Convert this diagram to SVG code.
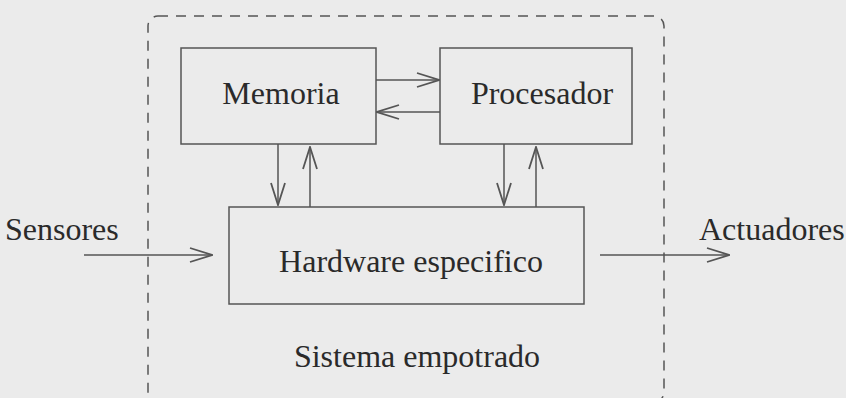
<svg xmlns="http://www.w3.org/2000/svg" width="846" height="398" viewBox="0 0 846 398">
<defs>
<style>
.box{fill:none;stroke:#555;stroke-width:1.5}
.c{fill:none;stroke:#555;stroke-width:1.5}
.t{font-family:'Liberation Serif','Times New Roman','DejaVu Serif',serif;font-size:32px;fill:#2a2a2a}
</style>
<marker id="ah" viewBox="0 0 24 16" refX="23" refY="8" markerWidth="24" markerHeight="16" markerUnits="userSpaceOnUse" orient="auto">
<path d="M1,1 L23,8 L1,15" fill="none" stroke="#555" stroke-width="1.8"/>
</marker>
</defs>
<rect width="846" height="398" fill="#ebebeb"/>
<g id="sistema">
<rect x="148" y="16" width="516" height="386" rx="10" fill="none" stroke="#555" stroke-width="1.5" stroke-dasharray="10,8"/>
<text class="t" font-family="Liberation Serif, serif" x="417" y="367" text-anchor="middle">Sistema empotrado</text>
</g>
<g id="memoria">
<rect class="box" x="181" y="48" width="195" height="96"/>
<text class="t" font-family="Liberation Serif, serif" x="281" y="104" text-anchor="middle">Memoria</text>
</g>
<g id="procesador">
<rect class="box" x="440" y="48" width="192" height="96"/>
<text class="t" font-family="Liberation Serif, serif" x="542" y="104" text-anchor="middle">Procesador</text>
</g>
<g id="hardware">
<rect class="box" x="229" y="207" width="355" height="97"/>
<text class="t" font-family="Liberation Serif, serif" x="411" y="272" text-anchor="middle">Hardware especifico</text>
</g>
<g id="sensores">
<text class="t" font-family="Liberation Serif, serif" x="5" y="240">Sensores</text>
</g>
<g id="actuadores">
<text class="t" font-family="Liberation Serif, serif" x="699" y="240">Actuadores</text>
</g>
<g id="connectors">
<line class="c" x1="376" y1="80" x2="439" y2="80" marker-end="url(#ah)"/>
<line class="c" x1="440" y1="112" x2="377" y2="112" marker-end="url(#ah)"/>
<line class="c" x1="278" y1="144" x2="278" y2="205" marker-end="url(#ah)"/>
<line class="c" x1="310" y1="207" x2="310" y2="147" marker-end="url(#ah)"/>
<line class="c" x1="504" y1="144" x2="504" y2="205" marker-end="url(#ah)"/>
<line class="c" x1="536" y1="207" x2="536" y2="147" marker-end="url(#ah)"/>
<line class="c" x1="84" y1="255" x2="212" y2="255" marker-end="url(#ah)"/>
<line class="c" x1="600" y1="255" x2="729" y2="255" marker-end="url(#ah)"/>
</g>
</svg>
